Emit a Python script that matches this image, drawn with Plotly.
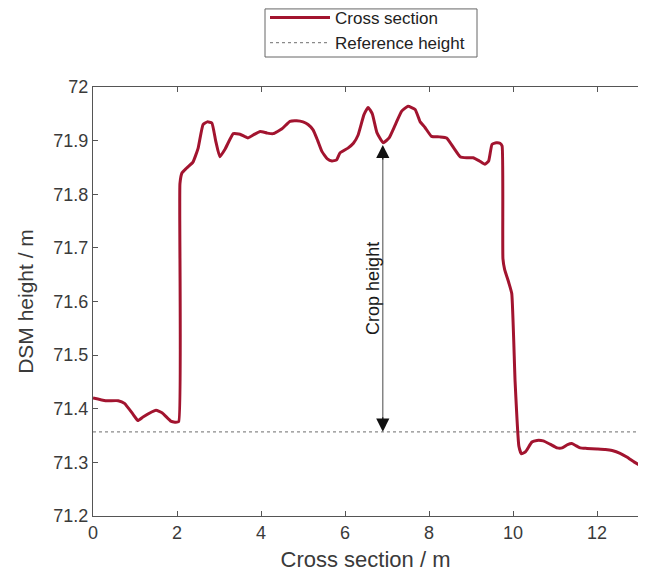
import plotly.graph_objects as go

# Cross-section profile (m along section, DSM height m)
x_pos = [0, 0.3, 0.6, 0.75, 0.95, 1.07, 1.2, 1.5, 1.65, 1.85, 1.95, 2.04, 2.07, 2.12, 2.23,
         2.38, 2.5, 2.62, 2.72, 2.83, 2.92, 3.02, 3.15, 3.34, 3.5, 3.69, 3.85, 3.98, 4.15,
         4.29, 4.5, 4.69, 4.85, 5.0, 5.12, 5.24, 5.35, 5.45, 5.58, 5.69, 5.8, 5.88, 6.07,
         6.2, 6.31, 6.45, 6.55, 6.65, 6.76, 6.91, 7.05, 7.2, 7.35, 7.5, 7.67, 7.79, 7.9,
         8.06, 8.25, 8.42, 8.6, 8.74, 8.9, 9.05, 9.2, 9.33, 9.42, 9.5, 9.6, 9.69, 9.74,
         9.76, 9.8, 9.9, 9.97, 10.05, 10.14, 10.2, 10.3, 10.45, 10.57, 10.72, 10.88, 11.05,
         11.17, 11.3, 11.4, 11.48, 11.6, 11.76, 12.0, 12.2, 12.36, 12.55, 12.71, 12.9, 13.14]
dsm_height = [71.42, 71.415, 71.415, 71.41, 71.39, 71.378, 71.385, 71.397, 71.392, 71.377,
              71.375, 71.376, 71.82, 71.84, 71.849, 71.86, 71.885, 71.93, 71.935, 71.933,
              71.9, 71.87, 71.885, 71.913, 71.912, 71.905, 71.912, 71.917, 71.914, 71.913,
              71.922, 71.936, 71.937, 71.935, 71.93, 71.92, 71.9, 71.88, 71.866, 71.862,
              71.864, 71.877, 71.886, 71.895, 71.91, 71.948, 71.962, 71.95, 71.915, 71.896,
              71.905, 71.93, 71.955, 71.964, 71.958, 71.935, 71.925, 71.908, 71.907, 71.905,
              71.885, 71.87, 71.868, 71.868, 71.862, 71.856, 71.862, 71.893, 71.896, 71.895,
              71.89, 71.68, 71.66, 71.635, 71.615, 71.45, 71.33, 71.316, 71.32, 71.338,
              71.341, 71.34, 71.334, 71.327, 71.327, 71.333, 71.335, 71.332, 71.327, 71.326,
              71.325, 71.324, 71.322, 71.317, 71.31, 71.3, 71.289]

reference_height = 71.357
ref_x = [0, 13.2]
ref_y = [reference_height, reference_height]

crop_x = 6.9
crop_top = 71.892
crop_label = "Crop height"

x_ticks = [0, 2, 4, 6, 8, 10, 12]
y_ticks = [71.2, 71.3, 71.4, 71.5, 71.6, 71.7, 71.8, 71.9, 72]
y_tick_text = ["71.2", "71.3", "71.4", "71.5", "71.6", "71.7", "71.8", "71.9", "72"]

FONT = "Liberation Sans, Arial, sans-serif"
TXT = "#3a3a3a"

fig = go.Figure()
fig.add_trace(go.Scatter(x=x_pos, y=dsm_height, mode="lines", name="Cross section",
                         line=dict(color="#A2142F", width=3, shape="spline", smoothing=0.4)))
fig.add_trace(go.Scatter(x=ref_x, y=ref_y, mode="lines", name="Reference height",
                         line=dict(color="#8a8a8a", width=1.3, dash="3px,3px")))

# double-headed "crop height" arrow: grey shaft, black heads
fig.add_shape(type="line", xref="x", yref="y", x0=crop_x, x1=crop_x,
              y0=reference_height + 0.01, y1=crop_top - 0.01,
              line=dict(color="#666666", width=1.2))
for tip, tail in ((crop_top, crop_top - 0.03), (reference_height, reference_height + 0.03)):
    fig.add_annotation(x=crop_x, y=tip, ax=crop_x, ay=tail, xref="x", yref="y",
                       axref="x", ayref="y", showarrow=True, arrowhead=2, arrowsize=2.4,
                       arrowwidth=1.1, arrowcolor="#111111", text="")
fig.add_annotation(x=6.68, y=(crop_top + reference_height) / 2, xref="x", yref="y",
                   text=crop_label, showarrow=False, textangle=-90,
                   font=dict(family=FONT, size=18, color="#1a1a1a"))

# legend frame
fig.add_shape(type="rect", xref="paper", yref="paper", x0=0.3156, x1=0.7046,
              y0=1.0699, y1=1.182, line=dict(color="#666666", width=1),
              fillcolor="rgba(0,0,0,0)")

axis_common = dict(showgrid=False, zeroline=False, showline=True, linecolor="#555555",
                   linewidth=1, ticks="inside", ticklen=5, tickcolor="#555555",
                   automargin=False,
                   tickfont=dict(family=FONT, size=18, color=TXT))

fig.update_xaxes(range=[0, 12.976], tickvals=x_ticks, ticktext=[str(v) for v in x_ticks],
                 mirror="ticks",
                 title=dict(text="Cross section / m", font=dict(family=FONT, size=22, color=TXT),
                            standoff=19), **axis_common)
fig.update_yaxes(range=[71.2, 72.0], tickvals=y_ticks, ticktext=y_tick_text,
                 title=dict(text="DSM height / m", font=dict(family=FONT, size=21, color=TXT),
                            standoff=14), **axis_common)

fig.update_layout(
    width=630, height=564,
    margin=dict(l=85, r=0, t=79, b=56, autoexpand=False),
    plot_bgcolor="white", paper_bgcolor="white",
    legend=dict(x=0.3156, y=1.2028, xanchor="left", yanchor="top",
                borderwidth=0, bgcolor="rgba(0,0,0,0)",
                font=dict(family=FONT, size=17, color="#222222"),
                tracegroupgap=0, itemwidth=60),
    showlegend=True,
)

fig.write_html("out.html")
